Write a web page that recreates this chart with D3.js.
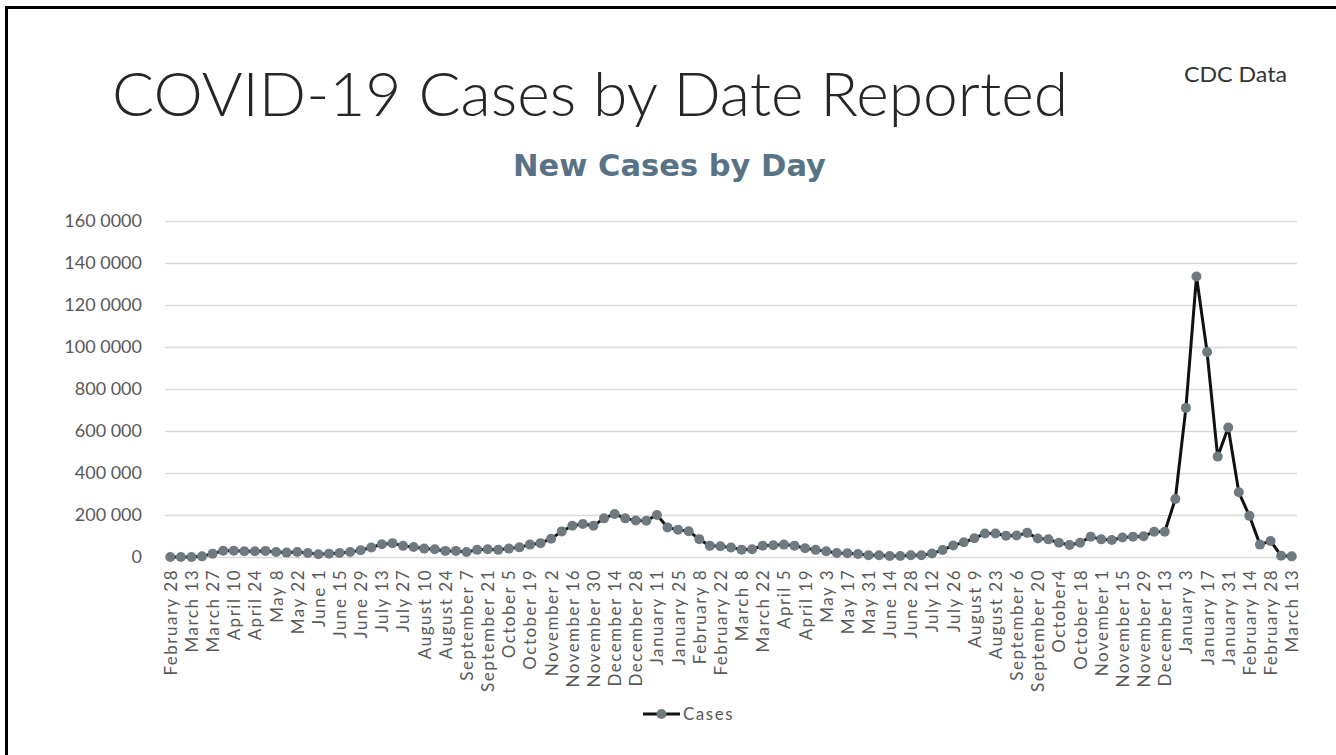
<!DOCTYPE html>
<html>
<head>
<meta charset="utf-8">
<script src="https://cdn.jsdelivr.net/npm/d3@7"></script>
<style>
  html, body { margin: 0; padding: 0; background: #ffffff; }
  svg { display: block; }
</style>
</head>
<body>
<svg id="chart" width="1336" height="755"></svg>
<script>
// ---------- DATA ----------
const tickLabels = [
  "February 28","March 13","March 27","April 10","April 24","May 8","May 22","June 1","June 15","June 29",
  "July 13","July 27","August 10","August 24","September 7","September 21","October 5","October 19",
  "November 2","November 16","November 30","December 14","December 28",
  "January 11","January 25","February 8","February 22","March 8","March 22","April 5","April 19",
  "May 3","May 17","May 31","June 14","June 28","July 12","July 26","August 9","August 23",
  "September 6","September 20","October4","October 18","November 1","November  15","November 29","December 13",
  "January 3","January 17","January 31","February 14","February 28","March 13"
];
const cases = [
  0, 0, 0, 3000, 16000, 30000, 30000, 27000, 27000, 29000,
  24000, 21000, 24000, 19000, 13000, 16000, 19000, 24000, 32000, 45000,
  61000, 66000, 53000, 48000, 40000, 37000, 29000, 29000, 24000, 34000,
  37000, 34000, 40000, 46000, 59000, 66000, 87000, 122000, 149000, 157000,
  149000, 184000, 205000, 184000, 174000, 173000, 200000, 141000, 130000, 123000,
  85000, 53000, 51000, 45000, 35000, 37000, 54000, 56000, 59000, 54000,
  42000, 34000, 27000, 19000, 18000, 14000, 8000, 8000, 5000, 5000,
  8000, 8000, 17000, 33000, 55000, 70000, 89000, 112000, 112000, 101000,
  102000, 115000, 88000, 84000, 68000, 57000, 68000, 97000, 84000, 81000,
  93000, 97000, 99000, 120000, 120000, 276000, 710000, 1336000, 976000, 478000,
  617000, 308000, 196000, 59000, 76000, 6000, 3000
];
const yTickValues = [0, 200000, 400000, 600000, 800000, 1000000, 1200000, 1400000, 1600000];
const yTickLabels = ["0", "200 000", "400 000", "600 000", "800 000", "100 0000", "120 0000", "140 0000", "160 0000"];
const seriesName = "Cases";
const titleText = "COVID-19 Cases by Date Reported";
const subtitleText = "New Cases by Day";
const sourceText = "CDC Data";

// ---------- LAYOUT ----------
const svg = d3.select("#chart");
const plot = { left: 165, right: 1297, top: 221, bottom: 557 };
const idx = d3.range(cases.length);

const x = d3.scalePoint().domain(idx).range([plot.left, plot.right]).padding(0.5);
const y = d3.scaleLinear().domain([0, 1600000]).range([plot.bottom, plot.top]);

// border (top and left edges)
svg.append("path")
  .attr("d", `M6.5,755 L6.5,7.5 L1336,7.5`)
  .attr("fill", "none").attr("stroke", "#000").attr("stroke-width", 3);

// titles
svg.append("text")
  .attr("x", 112).attr("y", 116)
  .attr("font-family", "Lato, 'Open Sans', sans-serif")
  .attr("font-weight", 300)
  .attr("font-size", 61)
  .attr("fill", "#262626")
  .attr("textLength", 956).attr("lengthAdjust", "spacingAndGlyphs")
  .text(titleText);

svg.append("text")
  .attr("x", 1184).attr("y", 82)
  .attr("font-family", "Lato, 'Open Sans', sans-serif")
  .attr("font-size", 21)
  .attr("fill", "#333")
  .attr("textLength", 103).attr("lengthAdjust", "spacingAndGlyphs")
  .text(sourceText);

svg.append("text")
  .attr("x", 513).attr("y", 176)
  .attr("font-family", "'DejaVu Sans', Verdana, sans-serif")
  .attr("font-weight", "bold")
  .attr("font-size", 30)
  .attr("fill", "#587386")
  .attr("textLength", 313).attr("lengthAdjust", "spacingAndGlyphs")
  .text(subtitleText);

// y axis (gridlines + labels)
const yAxis = d3.axisLeft(y)
  .tickValues(yTickValues)
  .tickSize(-(plot.right - plot.left))
  .tickPadding(23)
  .tickFormat((d, i) => yTickLabels[i]);

const gy = svg.append("g")
  .attr("transform", `translate(${plot.left},0)`)
  .call(yAxis);
gy.select(".domain").remove();
gy.selectAll(".tick line").attr("stroke", "#d9d9d9").attr("stroke-width", 1.3);
gy.selectAll(".tick text")
  .attr("font-family", "Lato, 'Open Sans', sans-serif")
  .attr("font-size", 18)
  .attr("fill", "#595959");

// x axis labels (every other category)
const xAxis = d3.axisBottom(x)
  .tickValues(idx.filter(i => i % 2 === 0))
  .tickSize(0)
  .tickFormat(i => tickLabels[i / 2]);
const gx = svg.append("g")
  .attr("transform", `translate(0,${plot.bottom})`)
  .call(xAxis);
gx.select(".domain").remove();
gx.selectAll(".tick text")
  .attr("font-family", "Lato, 'Open Sans', sans-serif")
  .attr("font-size", 17)
  .attr("letter-spacing", "1.5px")
  .attr("fill", "#595959")
  .attr("text-anchor", "end")
  .attr("dy", "0.35em")
  .attr("transform", "translate(0,12) rotate(-90)")
  .attr("x", 0).attr("y", 0);

// line
const line = d3.line().x((d, i) => x(i)).y(d => y(d));
svg.append("path")
  .datum(cases)
  .attr("d", line)
  .attr("fill", "none")
  .attr("stroke", "#111")
  .attr("stroke-width", 3)
  .attr("stroke-linejoin", "round");

// markers
svg.append("g").selectAll("circle")
  .data(cases)
  .join("circle")
  .attr("cx", (d, i) => x(i))
  .attr("cy", d => y(d))
  .attr("r", 5)
  .attr("fill", "#6f7a80");

// legend
const lg = svg.append("g").attr("transform", "translate(643,714)");
lg.append("line").attr("x1", 0).attr("x2", 37).attr("y1", 0).attr("y2", 0)
  .attr("stroke", "#111").attr("stroke-width", 3);
lg.append("circle").attr("cx", 18.5).attr("cy", 0).attr("r", 5).attr("fill", "#6f7a80");
lg.append("text").attr("x", 40).attr("y", 6)
  .attr("font-family", "Lato, 'Open Sans', sans-serif")
  .attr("font-size", 17).attr("letter-spacing", "1.5px").attr("fill", "#595959")
  .text(seriesName);
</script>
</body>
</html>
